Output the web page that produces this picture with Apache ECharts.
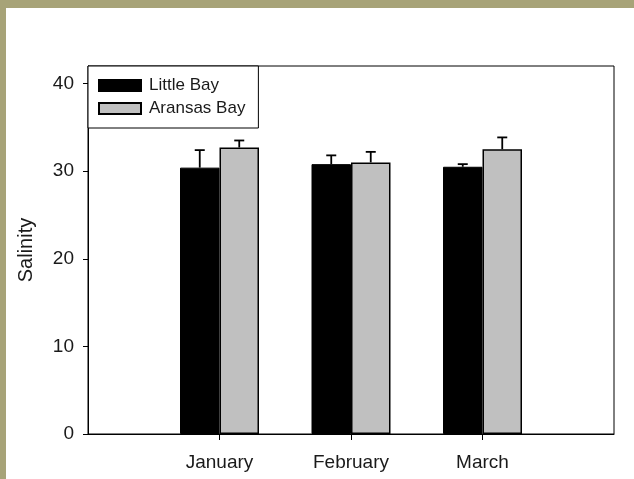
<!DOCTYPE html>
<html>
<head>
<meta charset="utf-8">
<script src="https://cdn.jsdelivr.net/npm/echarts@6/dist/echarts.min.js"></script>
<style>
  html, body { margin: 0; padding: 0; width: 634px; height: 479px; background: #a7a378; overflow: hidden; }
  #chart { position: absolute; left: 6px; top: 8px; width: 628px; height: 471px; background: #ffffff; }
</style>
</head>
<body>
<div id="chart"></div>
<script>
// Monthly mean salinity with upper standard-error bars
const categories = ['January', 'February', 'March'];
const seriesNames = ['Little Bay', 'Aransas Bay'];
const littleBayMean = [30.4, 30.8, 30.5];
const littleBayErr = [2.0, 1.0, 0.3];
const aransasBayMean = [32.7, 31.0, 32.5];
const aransasBayErr = [0.8, 1.2, 1.35];
const yTicks = [0, 10, 20, 30, 40];

const FONT = 'Liberation Sans, Arial, sans-serif';
const BAR_W = 39.5;

// category axis padded with empty slots so the months sit at 1/4, 2/4, 3/4 of the width
const axisCats = [''].concat(categories, ['']);
const pad = arr => [null].concat(arr, [null]);

function errData(means, errs) {
  return means.map((m, i) => [i + 1, m + errs[i], m]);
}

function errorBarRenderer(offset) {
  return function (params, api) {
    const idx = api.value(0);
    const hi = api.coord([idx, api.value(1)]);
    const lo = api.coord([idx, api.value(2)]);
    const x = hi[0] + offset;
    const style = { stroke: '#000', lineWidth: 1.8 };
    return {
      type: 'group',
      children: [
        { type: 'line', shape: { x1: x, y1: lo[1], x2: x, y2: hi[1] }, style: style },
        { type: 'line', shape: { x1: x - 5, y1: hi[1], x2: x + 5, y2: hi[1] }, style: style }
      ]
    };
  };
}

const chart = echarts.init(document.getElementById('chart'));
chart.setOption({
  animation: false,
  backgroundColor: '#ffffff',
  grid: {
    left: 82, right: 20, top: 58, bottom: 45,
    show: true, borderColor: '#000', borderWidth: 1, backgroundColor: 'transparent'
  },
  legend: {
    left: 82, top: 58,
    orient: 'vertical',
    itemWidth: 42, itemHeight: 11, itemGap: 6,
    padding: [11, 13, 11, 10],
    backgroundColor: '#fff',
    borderColor: '#000', borderWidth: 1,
    icon: 'rect',
    data: seriesNames,
    textStyle: { fontFamily: FONT, fontSize: 17, color: '#1a1a1a', padding: [0, 0, 0, 3] }
  },
  xAxis: {
    type: 'category',
    data: axisCats,
    boundaryGap: false,
    axisLine: { lineStyle: { color: '#000', width: 1 } },
    axisTick: {
      length: 6,
      interval: (i, v) => v !== '',
      lineStyle: { color: '#000' }
    },
    axisLabel: { interval: 0, margin: 19, fontFamily: FONT, fontSize: 19, color: '#1a1a1a' },
    splitLine: { show: false }
  },
  yAxis: {
    type: 'value',
    min: 0, max: 42,
    name: 'Salinity',
    nameLocation: 'middle',
    nameGap: 52,
    nameTextStyle: { fontFamily: FONT, fontSize: 20, color: '#1a1a1a' },
    axisLine: { show: true, lineStyle: { color: '#000', width: 1 } },
    axisTick: { show: true, length: 5, customValues: yTicks, lineStyle: { color: '#000' } },
    axisLabel: { customValues: yTicks, margin: 14, fontFamily: FONT, fontSize: 19, color: '#1a1a1a' },
    splitLine: { show: false }
  },
  series: [
    {
      name: seriesNames[0], type: 'bar', data: pad(littleBayMean),
      barWidth: BAR_W, barGap: '0%',
      itemStyle: { color: '#000', borderColor: '#000', borderWidth: 1 }
    },
    {
      name: seriesNames[1], type: 'bar', data: pad(aransasBayMean),
      barWidth: BAR_W, barGap: '0%',
      itemStyle: { color: '#c0c0c0', borderColor: '#000', borderWidth: 1.5 }
    },
    {
      type: 'custom', data: errData(littleBayMean, littleBayErr),
      renderItem: errorBarRenderer(-BAR_W / 2), z: 5,
      encode: { x: 0, y: 1 }
    },
    {
      type: 'custom', data: errData(aransasBayMean, aransasBayErr),
      renderItem: errorBarRenderer(BAR_W / 2), z: 5,
      encode: { x: 0, y: 1 }
    }
  ]
});
</script>
</body>
</html>
